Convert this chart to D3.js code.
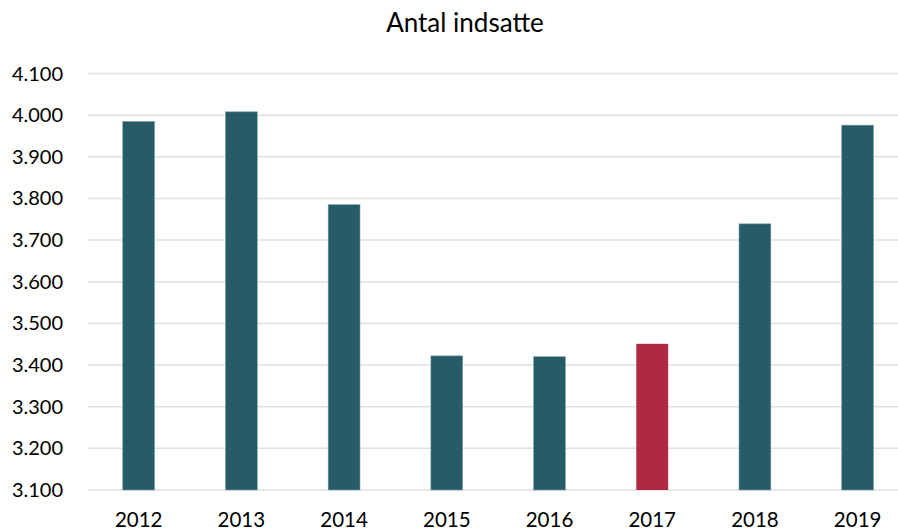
<!DOCTYPE html>
<html>
<head>
<meta charset="utf-8">
<script src="https://cdn.jsdelivr.net/npm/d3@7"></script>
<style>
  body { margin: 0; background: #fff; }
  svg { display: block; font-family: Lato, "Open Sans", sans-serif; }
</style>
</head>
<body>
<svg width="898" height="532"></svg>
<script>
let svg = d3.select("svg");

// chart data
let years = ["2012", "2013", "2014", "2015", "2016", "2017", "2018", "2019"];
let inmates = [3985, 4008, 3785, 3422, 3420, 3451, 3739, 3976];
let yTicks = [3100, 3200, 3300, 3400, 3500, 3600, 3700, 3800, 3900, 4000, 4100];
let highlightYear = "2017";

let barColor = "#255C67";
let highlightColor = "#AF2942";
let gridColor = "#E0E0E0";

let fmt = v => d3.format(",.3f")(v / 1000).replace(",", "");

let x = d3.scaleBand()
    .domain(years)
    .range([87.3, 909])
    .paddingInner(0.69)
    .paddingOuter(0.345);

let y = d3.scaleLinear()
    .domain([3100, 4100])
    .range([490, 73.5]);

// gridlines
svg.append("g")
    .selectAll("line")
    .data(yTicks).enter().append("line")
        .attr("x1", 88)
        .attr("x2", 898)
        .attr("y1", d => y(d))
        .attr("y2", d => y(d))
        .attr("stroke", gridColor)
        .attr("stroke-width", 1.5);

// y tick labels
svg.append("g")
    .selectAll("text")
    .data(yTicks).enter().append("text")
        .attr("x", 63)
        .attr("y", d => y(d))
        .attr("dy", "0.35em")
        .attr("text-anchor", "end")
        .attr("font-size", 20)
        .attr("fill", "#000")
        .text(d => fmt(d));

// bars
svg.append("g")
    .selectAll("rect")
    .data(years).enter().append("rect")
        .attr("x", d => x(d))
        .attr("width", x.bandwidth())
        .attr("y", (d, i) => y(inmates[i]))
        .attr("height", (d, i) => y(3100) - y(inmates[i]))
        .attr("fill", d => d === highlightYear ? highlightColor : barColor)
        .attr("stroke", d => d === highlightYear ? "none" : "#7FA0A7")
        .attr("stroke-width", 0.6);

// x labels
svg.append("g")
    .selectAll("text")
    .data(years).enter().append("text")
        .attr("x", d => x(d) + x.bandwidth() / 2)
        .attr("y", 527)
        .attr("text-anchor", "middle")
        .attr("font-size", 20.5)
        .attr("fill", "#000")
        .text(d => d);

// title
svg.append("text")
    .attr("x", 465)
    .attr("y", 32)
    .attr("text-anchor", "middle")
    .attr("font-size", 26)
    .attr("fill", "#000")
    .text("Antal indsatte");
</script>
</body>
</html>
